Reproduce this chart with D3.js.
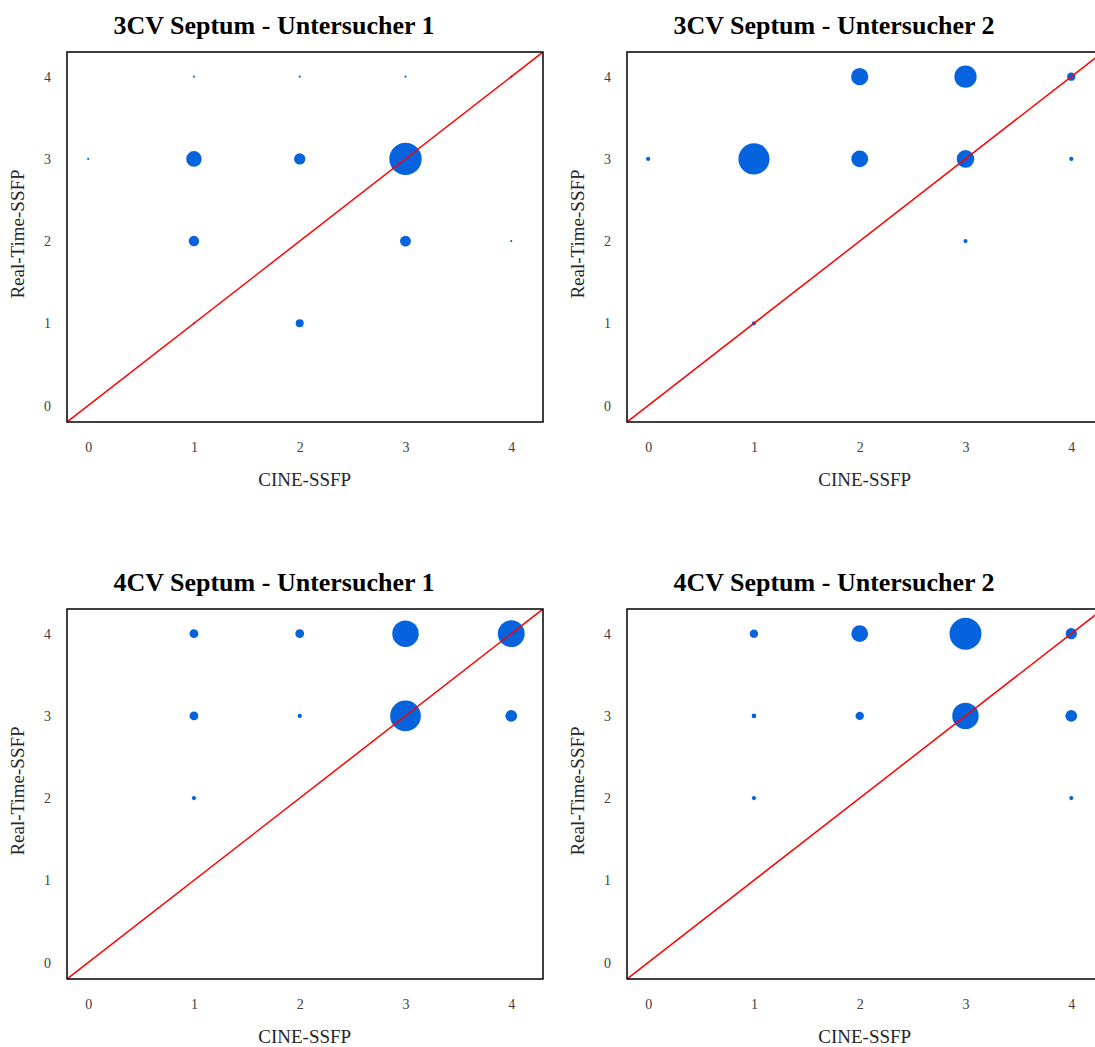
<!DOCTYPE html>
<html>
<head>
<meta charset="utf-8">
<script src="https://cdn.jsdelivr.net/npm/d3@7"></script>
<style>
  body { margin: 0; background: #fff; }
  svg { display: block; }
  .tick text { font-family: "Liberation Serif", serif; font-size: 14px; fill: #404040; }
</style>
</head>
<body>
<script>
// chart data: one bubble list per panel, [CINE-SSFP score, Real-Time-SSFP score, bubble size]
var titles = ["3CV Septum - Untersucher 1", "3CV Septum - Untersucher 2",
              "4CV Septum - Untersucher 1", "4CV Septum - Untersucher 2"];
var xLabel = "CINE-SSFP";
var yLabel = "Real-Time-SSFP";
var tickValues = [0, 1, 2, 3, 4];
var axisRange = [-0.2, 4.3];
var diagonal = [-0.2, 4.3];

var bubbles3cvU1 = [
  [0, 3, 0.5], [1, 4, 0.5], [2, 4, 0.5], [3, 4, 0.5], [4, 4, 0.5],
  [1, 3, 3.7], [2, 3, 2.7], [3, 3, 7.7],
  [1, 2, 2.5], [3, 2, 2.6], [4, 2, 0.5],
  [1, 1, 0.5], [2, 1, 1.9]
];
var bubbles3cvU2 = [
  [2, 4, 4.1], [3, 4, 5.3], [4, 4, 2],
  [0, 3, 1], [1, 3, 7.4], [2, 3, 4], [3, 3, 4.2], [4, 3, 1],
  [3, 2, 1], [1, 1, 1]
];
var bubbles4cvU1 = [
  [1, 4, 2.1], [2, 4, 2.1], [3, 4, 6.3], [4, 4, 6.4],
  [1, 3, 2.1], [2, 3, 1], [3, 3, 7.3], [4, 3, 2.8],
  [1, 2, 1]
];
var bubbles4cvU2 = [
  [1, 4, 2], [2, 4, 4], [3, 4, 7.6], [4, 4, 2.7],
  [1, 3, 1.1], [2, 3, 2], [3, 3, 6.3], [4, 3, 2.8],
  [1, 2, 1], [4, 2, 1]
];
var series = [bubbles3cvU1, bubbles3cvU2, bubbles4cvU1, bubbles4cvU2];

// layout
var width = 1095, height = 1047;
var plotW = 476, plotH = 370;
var origins = [[67, 52], [627, 52], [67, 609], [627, 609]];

var svg = d3.select("body").append("svg")
    .attr("width", width)
    .attr("height", height);

var x = d3.scaleLinear().domain(axisRange).range([0, plotW]);
var y = d3.scaleLinear().domain(axisRange).range([plotH, 0]);
var r = d3.scaleLinear().domain([0, 8]).range([0, 16.8]);

series.forEach(function(data, i) {
  var g = svg.append("g")
      .attr("transform", "translate(" + origins[i][0] + "," + origins[i][1] + ")");

  g.append("clipPath").attr("id", "clip" + i)
    .append("rect").attr("width", plotW).attr("height", plotH);

  //title
  g.append("text")
    .attr("x", plotW / 2 - 31)
    .attr("y", -18)
    .attr("text-anchor", "middle")
    .style("font-family", "Liberation Serif, serif")
    .style("font-weight", "bold")
    .style("font-size", "26px")
    .text(titles[i]);

  //axes without lines or ticks
  var xAxis = g.append("g")
      .attr("transform", "translate(0," + (plotH + 17) + ")")
      .call(d3.axisBottom(x).tickValues(tickValues).tickSize(0).tickFormat(d3.format("d")));
  xAxis.select(".domain").remove();

  var yAxis = g.append("g")
      .attr("transform", "translate(-13,0)")
      .call(d3.axisLeft(y).tickValues(tickValues).tickSize(0).tickFormat(d3.format("d")));
  yAxis.select(".domain").remove();

  g.append("text")
    .attr("x", x(2) + 5)
    .attr("y", plotH + 64)
    .attr("text-anchor", "middle")
    .style("font-family", "Liberation Serif, serif")
    .style("font-size", "19px")
    .style("fill", "#262626")
    .text(xLabel);

  g.append("text")
    .attr("transform", "translate(-43," + (plotH / 2 - 3) + ") rotate(-90)")
    .attr("text-anchor", "middle")
    .style("font-family", "Liberation Serif, serif")
    .style("font-size", "19px")
    .style("fill", "#262626")
    .text(yLabel);

  var plot = g.append("g").attr("clip-path", "url(#clip" + i + ")");

  plot.selectAll("circle")
    .data(data)
    .enter().append("circle")
    .attr("cx", function(d) { return x(d[0]); })
    .attr("cy", function(d) { return y(d[1]); })
    .attr("r", function(d) { return r(d[2]); })
    .attr("fill", "#0563DE");

  //identity line
  plot.append("line")
    .attr("x1", x(diagonal[0])).attr("y1", y(diagonal[0]))
    .attr("x2", x(diagonal[1])).attr("y2", y(diagonal[1]))
    .attr("stroke", "#FF0000")
    .attr("stroke-width", 1.5);

  g.append("rect")
    .attr("width", plotW)
    .attr("height", plotH)
    .attr("fill", "none")
    .attr("stroke", "#000")
    .attr("stroke-width", 1.5);
});
</script>
</body>
</html>
